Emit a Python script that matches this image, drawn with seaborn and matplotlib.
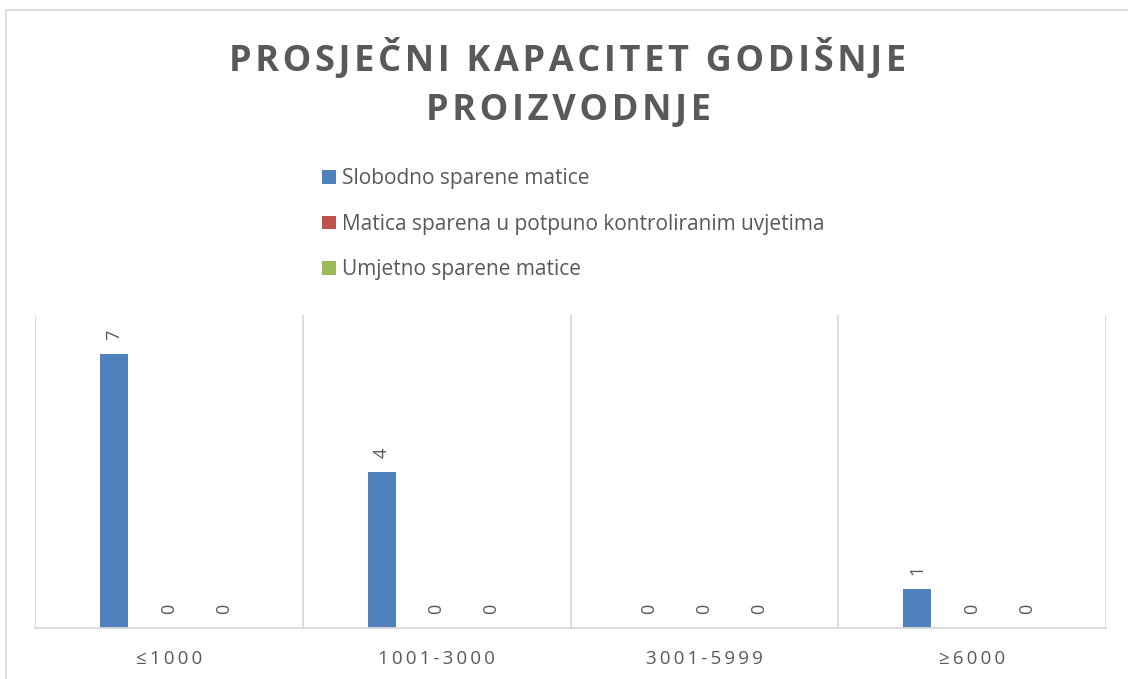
import pandas
import matplotlib.pyplot as plt
import seaborn as sns
from matplotlib.patches import Rectangle

sns.set_style("white")
plt.rcParams["font.family"] = ["Open Sans", "DejaVu Sans"]

GREY = "#595959"
LINE = "#d9d9d9"


def spaced(text, sep="\u2009"):
    """
    Fake the letter spacing of the original chart with thin spaces.
    """
    return sep.join(text)


def prepare_data_frame():
    """
    Assemble the counts per production class into a long data frame.
    """
    classes = ["≤1000", "1001-3000", "3001-5999", "≥6000"]
    counts = {
        "Slobodno sparene matice": [7, 4, 0, 1],
        "Matica sparena u potpuno kontroliranim uvjetima": [0, 0, 0, 0],
        "Umjetno sparene matice": [0, 0, 0, 0],
    }
    rows = []
    for series, values in counts.items():
        for cls, value in zip(classes, values):
            rows.append([spaced(cls), series, value])
    return pandas.DataFrame(rows, columns=["kapacitet", "tip", "broj"])


def plot_results(df, outfile):
    """
    Clustered columns with rotated value labels.
    """
    fig = plt.figure(figsize=(11.28, 6.79), dpi=100)
    ax = fig.add_axes([35 / 1128, 1 - 628 / 679, (1106 - 35) / 1128, (628 - 315) / 679])
    ax = sns.barplot(
        data=df,
        x="kapacitet",
        y="broj",
        hue="tip",
        palette=["#4F81BD", "#C0504D", "#9BBB59"],
        saturation=1,
        width=0.615,
        gap=0.49,
        linewidth=0,
        ax=ax,
    )
    for container in ax.containers:
        ax.bar_label(container, rotation=90, padding=10, color=GREY, fontsize=13)

    ax.set_ylim(0, 8)
    ax.set_xlim(-0.5, 3.5)
    ax.set_yticks([])
    ax.set_xlabel("")
    ax.set_ylabel("")
    ax.set_xticks([-0.5, 0.5, 1.5, 2.5, 3.5], minor=True)
    ax.grid(which="minor", axis="x", color=LINE, linewidth=1.3)
    ax.tick_params(axis="x", which="both", length=0, pad=16, labelsize=13.5, labelcolor=GREY)
    for side in ["left", "right", "top"]:
        ax.spines[side].set_visible(False)
    ax.spines["bottom"].set_color(LINE)
    ax.spines["bottom"].set_linewidth(1.3)

    # Legend stacked above the plot area
    handles, labels = ax.get_legend_handles_labels()
    ax.legend(
        handles,
        labels,
        loc="upper left",
        bbox_to_anchor=(312 / 1128, 1 - 158 / 679),
        bbox_transform=fig.transFigure,
        frameon=False,
        fontsize=15,
        labelcolor=GREY,
        handlelength=0.65,
        handleheight=0.65,
        handletextpad=0.28,
        labelspacing=1.17,
        borderpad=0,
    )

    fig.text(
        568 / 1128,
        1 - 84 / 679,
        spaced("PROSJEČNI KAPACITET GODIŠNJE", "\u200a") + "\n" + spaced("PROIZVODNJE", "\u200a"),
        ha="center",
        va="center",
        fontsize=26,
        fontweight="bold",
        color=GREY,
        linespacing=1.5,
    )

    # Chart area border, cut off at right and bottom like the original
    fig.patches.append(
        Rectangle((6 / 1128, -0.5), 2, 0.5 + 1 - 10 / 679,
                  transform=fig.transFigure, fill=False, edgecolor=LINE, linewidth=1.3)
    )
    fig.savefig(outfile, dpi=100)
    plt.close()


def main():
    """
    Run the main plotting operation!
    """
    df = prepare_data_frame()
    plot_results(df, "out.png")


if __name__ == "__main__":
    main()
